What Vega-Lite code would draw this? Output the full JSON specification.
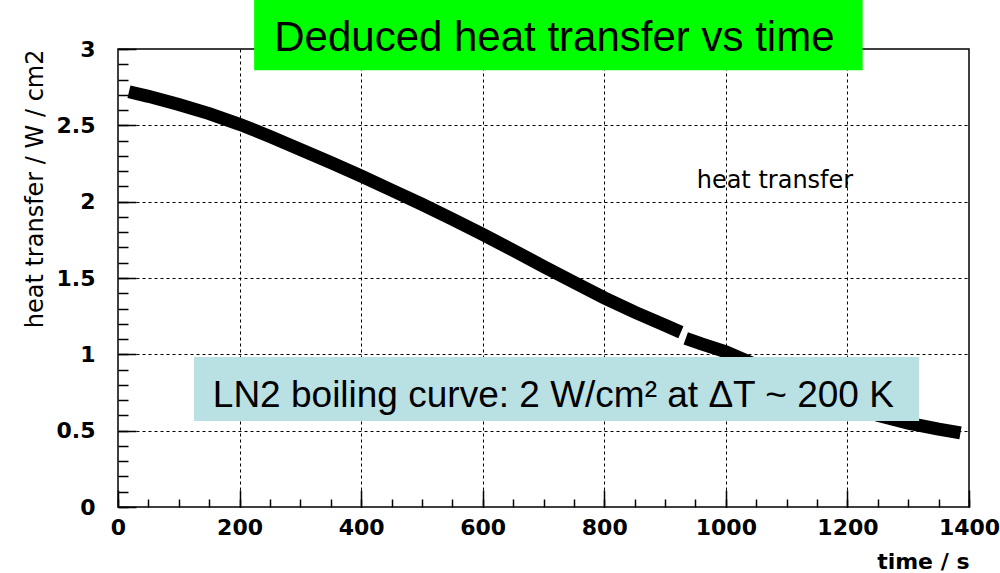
{
  "$schema": "https://vega.github.io/schema/vega-lite/v6.json",
  "width": 851,
  "height": 458,
  "autosize": "none",
  "padding": {"left": 118, "top": 49, "right": 31, "bottom": 66},
  "background": "white",
  "config": {
    "view": {"stroke": "black", "strokeWidth": 1.5},
    "axis": {"labelFont": "DejaVu Sans", "titleFont": "DejaVu Sans", "labelFontWeight": "bold", "labelColor": "black", "titleColor": "black", "titleFontWeight": "normal", "domain": false, "tickColor": "black", "tickWidth": 1.5, "gridColor": "black", "gridDash": [3, 3], "gridWidth": 1}
  },
  "resolve": {"axis": {"x": "independent", "y": "independent"}},
  "datasets": {
    "curve": [
      {"time": 18, "heat": 2.72, "seg": "a"},
      {"time": 50, "heat": 2.69, "seg": "a"},
      {"time": 100, "heat": 2.637, "seg": "a"},
      {"time": 150, "heat": 2.577, "seg": "a"},
      {"time": 200, "heat": 2.507, "seg": "a"},
      {"time": 250, "heat": 2.427, "seg": "a"},
      {"time": 300, "heat": 2.342, "seg": "a"},
      {"time": 350, "heat": 2.256, "seg": "a"},
      {"time": 400, "heat": 2.168, "seg": "a"},
      {"time": 450, "heat": 2.076, "seg": "a"},
      {"time": 500, "heat": 1.983, "seg": "a"},
      {"time": 550, "heat": 1.886, "seg": "a"},
      {"time": 600, "heat": 1.786, "seg": "a"},
      {"time": 650, "heat": 1.682, "seg": "a"},
      {"time": 700, "heat": 1.576, "seg": "a"},
      {"time": 750, "heat": 1.472, "seg": "a"},
      {"time": 800, "heat": 1.37, "seg": "a"},
      {"time": 850, "heat": 1.276, "seg": "a"},
      {"time": 900, "heat": 1.19, "seg": "a"},
      {"time": 926, "heat": 1.145, "seg": "a"},
      {"time": 934, "heat": 1.105, "seg": "b"},
      {"time": 960, "heat": 1.068, "seg": "b"},
      {"time": 1000, "heat": 1.016, "seg": "b"},
      {"time": 1050, "heat": 0.93, "seg": "b"},
      {"time": 1100, "heat": 0.84, "seg": "b"},
      {"time": 1150, "heat": 0.76, "seg": "b"},
      {"time": 1200, "heat": 0.68, "seg": "b"},
      {"time": 1250, "heat": 0.60, "seg": "b"},
      {"time": 1300, "heat": 0.55, "seg": "b"},
      {"time": 1350, "heat": 0.51, "seg": "b"},
      {"time": 1386, "heat": 0.485, "seg": "b"}
    ],
    "boxes": [
      {"time": 224, "time2": 1225, "heat": 2.86, "heat2": 3.33, "fill": "green"},
      {"time": 125, "time2": 1318, "heat": 0.563, "heat2": 0.982, "fill": "blue"}
    ],
    "labels": [
      {"time": 257, "heat": 2.99, "text": "Deduced heat transfer vs time", "kind": "title"},
      {"time": 156, "heat": 0.653, "text": "LN2 boiling curve: 2 W/cm² at ΔT ~ 200 K", "kind": "note"}
    ],
    "legend": [
      {"time": 952, "heat": 2.088, "text": "heat transfer"}
    ]
  },
  "layer": [
    {
      "data": {"name": "curve"},
      "mark": {"type": "line", "color": "black", "strokeWidth": 13, "strokeCap": "butt", "clip": false},
      "encoding": {
        "x": {
          "field": "time", "type": "quantitative",
          "scale": {"domain": [0, 1400], "nice": false, "zero": false},
          "axis": {
            "orient": "bottom",
            "values": [0,50,100,150,200,250,300,350,400,450,500,550,600,650,700,750,800,850,900,950,1000,1050,1100,1150,1200,1250,1300,1350,1400],
            "labels": false, "grid": false, "title": null,
            "tickSize": -8
          }
        },
        "y": {
          "field": "heat", "type": "quantitative",
          "scale": {"domain": [0, 3], "nice": false, "zero": false},
          "axis": {
            "orient": "left",
            "values": [0,0.1,0.2,0.3,0.4,0.5,0.6,0.7,0.8,0.9,1,1.1,1.2,1.3,1.4,1.5,1.6,1.7,1.8,1.9,2,2.1,2.2,2.3,2.4,2.5,2.6,2.7,2.8,2.9,3],
            "labels": false, "grid": false, "title": null,
            "tickSize": -10
          }
        },
        "detail": {"field": "seg"}
      }
    },
    {
      "data": {"name": "legend"},
      "mark": {"type": "text", "font": "DejaVu Sans", "fontSize": 24, "align": "left", "baseline": "alphabetic", "color": "black"},
      "encoding": {
        "x": {
          "field": "time", "type": "quantitative",
          "axis": {
            "orient": "bottom",
            "values": [0,200,400,600,800,1000,1200,1400],
            "labels": false, "grid": false, "title": null,
            "tickSize": -17
          }
        },
        "y": {
          "field": "heat", "type": "quantitative",
          "axis": {
            "orient": "left",
            "values": [0,0.5,1,1.5,2,2.5,3],
            "labels": false, "grid": false, "title": null,
            "tickSize": -18
          }
        },
        "text": {"field": "text"}
      }
    },
    {
      "data": {"name": "boxes"},
      "mark": {"type": "rect", "clip": false},
      "encoding": {
        "x": {
          "field": "time", "type": "quantitative",
          "axis": {
            "orient": "bottom",
            "values": [0,200,400,600,800,1000,1200,1400],
            "format": "d",
            "ticks": false,
            "labelFontSize": 22,
            "labelPadding": 10,
            "labelFlush": false,
            "labelOverlap": false,
            "grid": true,
            "gridOpacity": {"condition": {"test": "datum.value > 0 && datum.value < 1400", "value": 1}, "value": 0},
            "title": "time / s",
            "titleFontSize": 22,
            "titleFontWeight": "bold",
            "titleAnchor": "end",
            "titleAlign": "right",
            "titleBaseline": "alphabetic",
            "titleX": 851,
            "titleY": 61
          }
        },
        "x2": {"field": "time2"},
        "y": {
          "field": "heat", "type": "quantitative",
          "axis": {
            "orient": "left",
            "values": [0,0.5,1,1.5,2,2.5,3],
            "format": "~g",
            "ticks": false,
            "labelFontSize": 22,
            "labelPadding": 23,
            "labelOverlap": false,
            "grid": true,
            "gridOpacity": {"condition": {"test": "datum.value > 0.01 && datum.value < 2.99", "value": 1}, "value": 0},
            "title": "heat transfer / W / cm2",
            "titleFontSize": 24,
            "titleAngle": -90,
            "titleAnchor": "end",
            "titleAlign": "right",
            "titleBaseline": "alphabetic",
            "titleX": -76,
            "titleY": 0
          }
        },
        "y2": {"field": "heat2"},
        "color": {"field": "fill", "type": "nominal", "scale": {"domain": ["green", "blue"], "range": ["#00ff00", "#b9e0e3"]}, "legend": null}
      }
    },
    {
      "data": {"name": "labels"},
      "mark": {"type": "text", "font": "Liberation Sans", "align": "left", "baseline": "alphabetic", "color": "black", "clip": false},
      "encoding": {
        "x": {"field": "time", "type": "quantitative", "axis": null},
        "y": {"field": "heat", "type": "quantitative", "axis": null},
        "text": {"field": "text"},
        "size": {"field": "kind", "type": "nominal", "scale": {"domain": ["title", "note"], "range": [42, 37]}, "legend": null}
      }
    }
  ]
}
